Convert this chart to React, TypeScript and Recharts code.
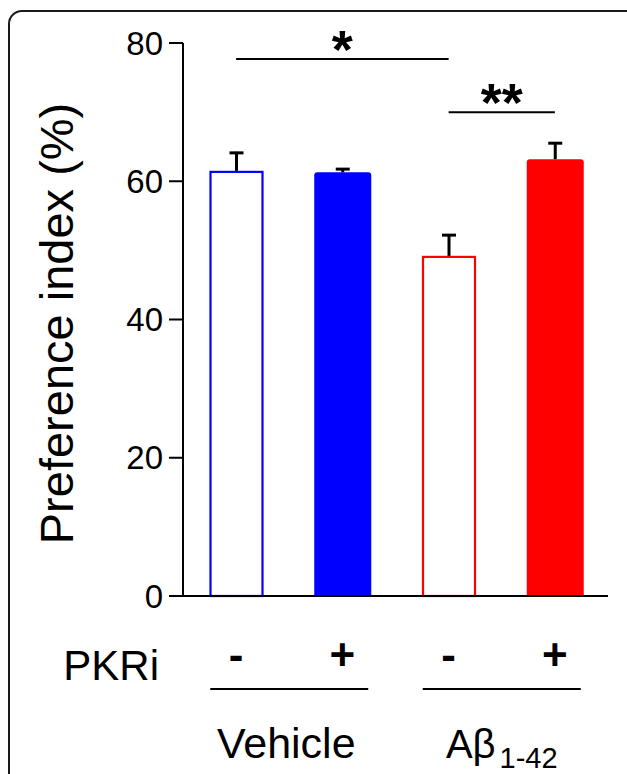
import React from 'react';
import { BarChart, Bar, XAxis, YAxis, ReferenceLine, Label, Rectangle } from 'recharts';

const FONT = "'Liberation Sans', Arial, Helvetica, sans-serif";

// categories
const keys = ['veh-', 'veh+', 'ab-', 'ab+'];
const signs = ['-', '+', '-', '+'];
const groupOf = ['Vehicle', 'Vehicle', 'Aβ', 'Aβ'];
// series values
const means = [61.5, 61.3, 49.2, 63.2];
const sems = [2.75, 0.6, 3.15, 2.45];
const filledFlags = [false, true, false, true];
const colors = ['#0000FF', '#0000FF', '#FF0000', '#FF0000'];
// axis
const yTicks = [0, 20, 40, 60, 80];
const yLabel = 'Preference index (%)';
const xLabel = 'PKRi';
// significance
const sigStar = { from: 'veh-', to: 'ab-', y: 77.7, text: '*' };
const sigDouble = { from: 'ab-', to: 'ab+', y: 70, text: '**' };

const data = keys.map((k, i) => ({
  key: k,
  sign: signs[i],
  group: groupOf[i],
  mean: means[i],
  sem: sems[i],
  filled: filledFlags[i],
  color: colors[i],
}));

const MeanShape = (p: any) => {
  const { x, y, width, height, payload } = p;
  if (payload.filled) {
    return <Rectangle x={x} y={y} width={width} height={height} radius={[3, 3, 0, 0]} fill={payload.color} />;
  }
  return (
    <rect x={x + 2.5} y={y + 1} width={width - 5} height={Math.max(0, height - 1)} fill="#fff" stroke={payload.color} strokeWidth={2.2} />
  );
};

const ErrShape = (p: any) => {
  const { x, y, width, height } = p;
  const cx = x + width / 2;
  return (
    <g>
      <line x1={cx} x2={cx} y1={y + height} y2={y} stroke="#000" strokeWidth={3} />
      <line x1={cx - 7} x2={cx + 7} y1={y + 1} y2={y + 1} stroke="#000" strokeWidth={3} />
    </g>
  );
};

const SignTick = (p: any) => {
  const { x, y, payload } = p;
  const idx = keys.indexOf(payload.value);
  return (
    <text x={x} y={y + 74} textAnchor="middle" fontSize={44} fontWeight="bold" fontFamily={FONT} fill="#000">
      {signs[idx]}
    </text>
  );
};

const GroupTick = (p: any) => {
  const { x, y, payload } = p;
  const isAb = payload.value === 'Aβ';
  return (
    <g>
      <line x1={x - 79} x2={x + 79} y1={y + 13} y2={y + 13} stroke="#000" strokeWidth={2} />
      {isAb ? (
        <text x={x} y={y + 82} textAnchor="middle" fontFamily={FONT} fill="#000">
          <tspan fontSize={40}>Aβ</tspan>
          <tspan fontSize={29} dx={4} dy={10}>1-42</tspan>
        </text>
      ) : (
        <text x={x - 3} y={y + 82} textAnchor="middle" fontSize={43} fontFamily={FONT} fill="#000">
          {payload.value}
        </text>
      )}
    </g>
  );
};

const YLabelContent = (p: any) => {
  const vb = p.viewBox || { x: 0, y: 43, width: 183, height: 553 };
  const cx = vb.x + 73;
  const cy = vb.y + vb.height / 2 + 4;
  return (
    <text x={cx} y={cy} textAnchor="middle" fontSize={47} fontFamily={FONT} fill="#000" transform={`rotate(-90, ${cx}, ${cy})`}>
      {yLabel}
    </text>
  );
};

const XLabelContent = (p: any) => {
  const vb = p.viewBox || { x: 183, y: 596 };
  return (
    <text x={vb.x - 24} y={vb.y + 84} textAnchor="end" fontSize={42} fontFamily={FONT} fill="#000">
      {xLabel}
    </text>
  );
};

const starContent = (text: string) => (p: any) => {
  const vb = p.viewBox || { x: 0, y: 0, width: 0 };
  return (
    <text x={vb.x + (vb.width || 0) / 2} y={vb.y + 9} textAnchor="middle" fontSize={54} fontWeight="bold" fontFamily={FONT} fill="#000">
      {text}
    </text>
  );
};

export default function App() {
  return (
    <div style={{ position: 'fixed', left: 0, top: 0, width: 627, height: 774, overflow: 'hidden', background: '#fff' }}>
      <div
        style={{
          position: 'absolute',
          left: 8,
          top: 10,
          width: 640,
          height: 800,
          border: '2px solid #1a1a1a',
          borderRadius: 14,
          boxSizing: 'border-box',
        }}
      />
      <div style={{ position: 'absolute', left: 0, top: 0 }}>
        <BarChart width={627} height={774} data={data} margin={{ top: 43, right: 19, bottom: 0, left: 0 }} barSize={57}>
          <YAxis
            type="number"
            domain={[0, 80]}
            ticks={yTicks}
            interval={0}
            width={183}
            tickSize={14}
            tickMargin={6}
            axisLine={{ stroke: '#000', strokeWidth: 2 }}
            tickLine={{ stroke: '#000', strokeWidth: 2 }}
            tick={{ fontSize: 33, fill: '#000', fontFamily: FONT }}
          >
            <Label content={YLabelContent} />
          </YAxis>
          <XAxis
            dataKey="key"
            height={80}
            tickLine={false}
            tickSize={0}
            tickMargin={0}
            axisLine={{ stroke: '#000', strokeWidth: 2 }}
            tick={SignTick}
            interval={0}
          >
            <Label content={XLabelContent} />
          </XAxis>
          <XAxis
            xAxisId="grp"
            dataKey="group"
            allowDuplicatedCategory={false}
            height={98}
            tickLine={false}
            tickSize={0}
            tickMargin={0}
            axisLine={false}
            tick={GroupTick}
            interval={0}
          />
          <Bar dataKey="mean" stackId="s" shape={MeanShape} isAnimationActive={false} />
          <Bar dataKey="sem" stackId="s" shape={ErrShape} isAnimationActive={false} />
          <ReferenceLine
            segment={[{ x: sigStar.from, y: sigStar.y }, { x: sigStar.to, y: sigStar.y }]}
            stroke="#000"
            strokeWidth={2}
            label={starContent(sigStar.text)}
          />
          <ReferenceLine
            segment={[{ x: sigDouble.from, y: sigDouble.y }, { x: sigDouble.to, y: sigDouble.y }]}
            stroke="#000"
            strokeWidth={2}
            label={starContent(sigDouble.text)}
          />
        </BarChart>
      </div>
    </div>
  );
}
